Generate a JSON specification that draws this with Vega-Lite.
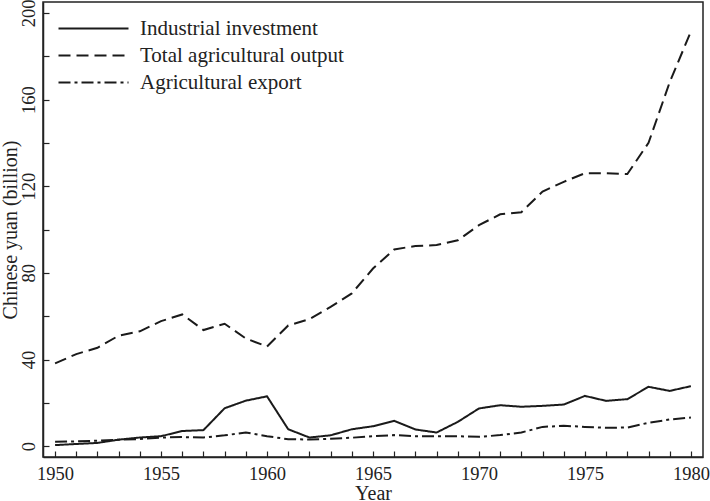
{
  "$schema": "https://vega.github.io/schema/vega-lite/v6.json",
  "width": 660,
  "height": 455,
  "autosize": {"type": "none"},
  "padding": {"left": 43, "top": 2, "right": 7, "bottom": 44},
  "background": "white",
  "config": {
    "font": "Liberation Serif",
    "view": {"stroke": "#222", "strokeWidth": 1.5},
    "axis": {"grid": false, "domainColor": "#222", "domainWidth": 1.5, "tickColor": "#222", "tickWidth": 1.2, "labelColor": "#222", "titleColor": "#222", "labelFont": "Liberation Serif", "titleFont": "Liberation Serif", "labelFontSize": 18.5, "titleFontSize": 20, "titleFontWeight": "normal"}
  },
  "data": {"values": [
    {"year": 1950, "series": "Industrial investment", "value": 0.5},
    {"year": 1951, "series": "Industrial investment", "value": 1.0},
    {"year": 1952, "series": "Industrial investment", "value": 1.5},
    {"year": 1953, "series": "Industrial investment", "value": 3.0},
    {"year": 1954, "series": "Industrial investment", "value": 4.0},
    {"year": 1955, "series": "Industrial investment", "value": 4.6},
    {"year": 1956, "series": "Industrial investment", "value": 7.0},
    {"year": 1957, "series": "Industrial investment", "value": 7.4},
    {"year": 1958, "series": "Industrial investment", "value": 17.5},
    {"year": 1959, "series": "Industrial investment", "value": 21.0},
    {"year": 1960, "series": "Industrial investment", "value": 23.0},
    {"year": 1961, "series": "Industrial investment", "value": 7.8},
    {"year": 1962, "series": "Industrial investment", "value": 4.0},
    {"year": 1963, "series": "Industrial investment", "value": 5.0},
    {"year": 1964, "series": "Industrial investment", "value": 7.8},
    {"year": 1965, "series": "Industrial investment", "value": 9.2},
    {"year": 1966, "series": "Industrial investment", "value": 11.7},
    {"year": 1967, "series": "Industrial investment", "value": 7.7},
    {"year": 1968, "series": "Industrial investment", "value": 6.3},
    {"year": 1969, "series": "Industrial investment", "value": 11.2},
    {"year": 1970, "series": "Industrial investment", "value": 17.4},
    {"year": 1971, "series": "Industrial investment", "value": 18.9},
    {"year": 1972, "series": "Industrial investment", "value": 18.2},
    {"year": 1973, "series": "Industrial investment", "value": 18.6},
    {"year": 1974, "series": "Industrial investment", "value": 19.2},
    {"year": 1975, "series": "Industrial investment", "value": 23.2},
    {"year": 1976, "series": "Industrial investment", "value": 20.9},
    {"year": 1977, "series": "Industrial investment", "value": 21.7},
    {"year": 1978, "series": "Industrial investment", "value": 27.4},
    {"year": 1979, "series": "Industrial investment", "value": 25.5},
    {"year": 1980, "series": "Industrial investment", "value": 27.7},
    {"year": 1950, "series": "Total agricultural output", "value": 38.2},
    {"year": 1951, "series": "Total agricultural output", "value": 42.5},
    {"year": 1952, "series": "Total agricultural output", "value": 45.4},
    {"year": 1953, "series": "Total agricultural output", "value": 51.0},
    {"year": 1954, "series": "Total agricultural output", "value": 53.0},
    {"year": 1955, "series": "Total agricultural output", "value": 57.7},
    {"year": 1956, "series": "Total agricultural output", "value": 60.8},
    {"year": 1957, "series": "Total agricultural output", "value": 53.6},
    {"year": 1958, "series": "Total agricultural output", "value": 56.5},
    {"year": 1959, "series": "Total agricultural output", "value": 49.7},
    {"year": 1960, "series": "Total agricultural output", "value": 46.0},
    {"year": 1961, "series": "Total agricultural output", "value": 55.7},
    {"year": 1962, "series": "Total agricultural output", "value": 58.6},
    {"year": 1963, "series": "Total agricultural output", "value": 64.3},
    {"year": 1964, "series": "Total agricultural output", "value": 70.5},
    {"year": 1965, "series": "Total agricultural output", "value": 82.0},
    {"year": 1966, "series": "Total agricultural output", "value": 90.8},
    {"year": 1967, "series": "Total agricultural output", "value": 92.4},
    {"year": 1968, "series": "Total agricultural output", "value": 92.8},
    {"year": 1969, "series": "Total agricultural output", "value": 95.0},
    {"year": 1970, "series": "Total agricultural output", "value": 102.0},
    {"year": 1971, "series": "Total agricultural output", "value": 107.0},
    {"year": 1972, "series": "Total agricultural output", "value": 108.0},
    {"year": 1973, "series": "Total agricultural output", "value": 117.5},
    {"year": 1974, "series": "Total agricultural output", "value": 122.0},
    {"year": 1975, "series": "Total agricultural output", "value": 126.0},
    {"year": 1976, "series": "Total agricultural output", "value": 126.0},
    {"year": 1977, "series": "Total agricultural output", "value": 125.6},
    {"year": 1978, "series": "Total agricultural output", "value": 140.0},
    {"year": 1979, "series": "Total agricultural output", "value": 168.0},
    {"year": 1980, "series": "Total agricultural output", "value": 191.4},
    {"year": 1950, "series": "Agricultural export", "value": 2.0},
    {"year": 1951, "series": "Agricultural export", "value": 2.2},
    {"year": 1952, "series": "Agricultural export", "value": 2.5},
    {"year": 1953, "series": "Agricultural export", "value": 3.0},
    {"year": 1954, "series": "Agricultural export", "value": 3.3},
    {"year": 1955, "series": "Agricultural export", "value": 4.0},
    {"year": 1956, "series": "Agricultural export", "value": 4.2},
    {"year": 1957, "series": "Agricultural export", "value": 4.0},
    {"year": 1958, "series": "Agricultural export", "value": 5.0},
    {"year": 1959, "series": "Agricultural export", "value": 6.3},
    {"year": 1960, "series": "Agricultural export", "value": 4.6},
    {"year": 1961, "series": "Agricultural export", "value": 3.2},
    {"year": 1962, "series": "Agricultural export", "value": 3.1},
    {"year": 1963, "series": "Agricultural export", "value": 3.4},
    {"year": 1964, "series": "Agricultural export", "value": 3.9},
    {"year": 1965, "series": "Agricultural export", "value": 4.6},
    {"year": 1966, "series": "Agricultural export", "value": 5.1},
    {"year": 1967, "series": "Agricultural export", "value": 4.6},
    {"year": 1968, "series": "Agricultural export", "value": 4.6},
    {"year": 1969, "series": "Agricultural export", "value": 4.6},
    {"year": 1970, "series": "Agricultural export", "value": 4.3},
    {"year": 1971, "series": "Agricultural export", "value": 5.1},
    {"year": 1972, "series": "Agricultural export", "value": 6.3},
    {"year": 1973, "series": "Agricultural export", "value": 8.9},
    {"year": 1974, "series": "Agricultural export", "value": 9.4},
    {"year": 1975, "series": "Agricultural export", "value": 8.9},
    {"year": 1976, "series": "Agricultural export", "value": 8.5},
    {"year": 1977, "series": "Agricultural export", "value": 8.6},
    {"year": 1978, "series": "Agricultural export", "value": 10.8},
    {"year": 1979, "series": "Agricultural export", "value": 12.3},
    {"year": 1980, "series": "Agricultural export", "value": 13.2}
  ]},
  "mark": {"type": "line", "color": "#1a1a1a", "strokeWidth": 2},
  "encoding": {
    "x": {
      "field": "year", "type": "quantitative",
      "scale": {"domain": [1949.43, 1980.57], "nice": false, "zero": false},
      "axis": {
        "title": "Year", "titleY": 26, "titleBaseline": "top",
        "values": [1950,1951,1952,1953,1954,1955,1956,1957,1958,1959,1960,1961,1962,1963,1964,1965,1966,1967,1968,1969,1970,1971,1972,1973,1974,1975,1976,1977,1978,1979,1980],
        "labelExpr": "datum.value % 5 === 0 ? format(datum.value, 'd') : ''",
        "tickSize": -6, "labelPadding": 13, "labelFlush": false, "labelOverlap": false
      }
    },
    "y": {
      "field": "value", "type": "quantitative",
      "scale": {"domain": [-5, 205], "nice": false, "zero": false},
      "axis": {
        "title": "Chinese yuan (billion)", "titleX": -23,
        "values": [0,20,40,60,80,100,120,140,160,180,200],
        "labelExpr": "datum.value % 40 === 0 ? format(datum.value, 'd') : ''",
        "labelAngle": -90, "labelAlign": "center", "labelBaseline": "bottom",
        "tickSize": -6, "labelPadding": 11, "labelOverlap": false
      }
    },
    "strokeDash": {
      "field": "series", "type": "nominal",
      "scale": {
        "domain": ["Industrial investment", "Total agricultural output", "Agricultural export"],
        "range": [[1, 0], [12, 6], [12, 4, 3, 4]]
      },
      "legend": {
        "title": null, "orient": "none", "legendX": 5, "legendY": 16,
        "symbolType": "M0,0L10,0", "symbolSize": 196, "symbolStrokeWidth": 2, "symbolStrokeColor": "#1a1a1a",
        "labelFont": "Liberation Serif", "labelFontSize": 21, "labelColor": "#222", "labelOffset": 71,
        "rowPadding": 5, "padding": 0, "labelLimit": 400
      }
    }
  }
}
